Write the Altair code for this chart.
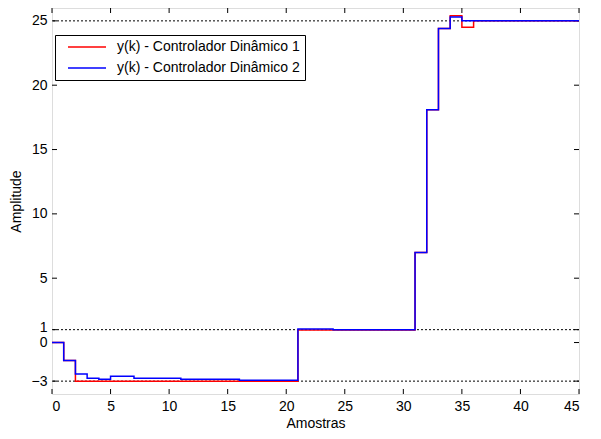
import altair as alt
import pandas as pd

k = list(range(46))
s1_name = "y(k) - Controlador Dinâmico 1"
s2_name = "y(k) - Controlador Dinâmico 2"
y1 = [0, -1.4] + [-3.0] * 19 + [0.98] * 10 + [7.0, 18.1, 24.4, 25.4, 24.5] + [25.0] * 10
y2 = ([0, -1.4, -2.45, -2.77, -2.85, -2.62, -2.62] + [-2.77] * 4 + [-2.85] * 5 + [-2.93] * 5
      + [1.05] * 3 + [1.0] * 7 + [7.0, 18.1, 24.4, 25.3] + [25.0] * 11)
ref_lines = [25, 1, -3]
x_ticks = [0, 5, 10, 15, 20, 25, 30, 35, 40, 45]
y_ticks = [-3, 0, 1, 5, 10, 15, 20, 25]

df = pd.DataFrame({
    "k": k * 2,
    "y": y1 + y2,
    "serie": [s1_name] * len(k) + [s2_name] * len(k),
})

W, H = 527, 386
FONT = "Liberation Sans"
FS = 14
xs = alt.Scale(domain=[0, 45], nice=False, zero=False)
ys = alt.Scale(domain=[-4, 26], nice=False, zero=False)

lines = alt.Chart(df).mark_line(interpolate="step-after", strokeWidth=1.5).encode(
    x=alt.X("k:Q", scale=xs, title="Amostras",
            axis=alt.Axis(values=x_ticks, tickSize=0, domain=False, grid=False, labelOverlap=False,
                          labelPadding=5, titlePadding=3, labelFontSize=FS, titleFontSize=FS,
                          labelFont=FONT, titleFont=FONT, titleFontWeight="normal", labelColor="black", titleColor="black")),
    y=alt.Y("y:Q", scale=ys, title="Amplitude",
            axis=alt.Axis(values=y_ticks, tickSize=0, domain=False, grid=False, labelOverlap=False,
                          labelOffset={"condition": {"test": "datum.value == 1", "value": -2}, "value": 0},
                          labelPadding=5, titlePadding=8, labelFontSize=FS, titleFontSize=FS,
                          labelFont=FONT, titleFont=FONT, titleFontWeight="normal", labelColor="black", titleColor="black")),
    color=alt.Color("serie:N", title=None,
                    scale=alt.Scale(domain=[s1_name, s2_name], range=["#ff0000", "#0000ff"]),
                    legend=alt.Legend(orient="none", legendX=3, legendY=27,
                                      symbolType="M-4.75,0H4.75", symbolSize=64,
                                      symbolStrokeWidth=1.5, strokeColor="black",
                                      fillColor="white", padding=5, labelFontSize=FS, labelFont=FONT,
                                      labelColor="black", labelLimit=0, rowPadding=7,
                                      symbolOffset=20, labelOffset=23)),
)

dotted = alt.Chart(pd.DataFrame({"v": ref_lines})).mark_rule(
    strokeDash=[2, 2], color="black", strokeWidth=1).encode(y=alt.Y("v:Q", scale=ys))

xt = pd.DataFrame({"v": x_ticks})
yt = pd.DataFrame({"v": y_ticks})
tick_b = alt.Chart(xt).mark_rule(color="black").encode(x=alt.X("v:Q", scale=xs), y=alt.value(H), y2=alt.value(H - 5))
tick_t = alt.Chart(xt).mark_rule(color="black").encode(x=alt.X("v:Q", scale=xs), y=alt.value(0), y2=alt.value(5))
tick_l = alt.Chart(yt).mark_rule(color="black").encode(y=alt.Y("v:Q", scale=ys), x=alt.value(0), x2=alt.value(5))
tick_r = alt.Chart(yt).mark_rule(color="black").encode(y=alt.Y("v:Q", scale=ys), x=alt.value(W), x2=alt.value(W - 5))

chart = alt.layer(dotted, tick_b, tick_t, tick_l, tick_r, lines).properties(
    width=W, height=H,
    autosize=alt.AutoSizeParams(type="none"),
    padding={"left": 44, "top": 0, "right": 14, "bottom": 37},
).configure_view(stroke="black", strokeWidth=1).configure(background="white")

chart.save("out.html", embed_options={"renderer": "svg", "actions": False})
